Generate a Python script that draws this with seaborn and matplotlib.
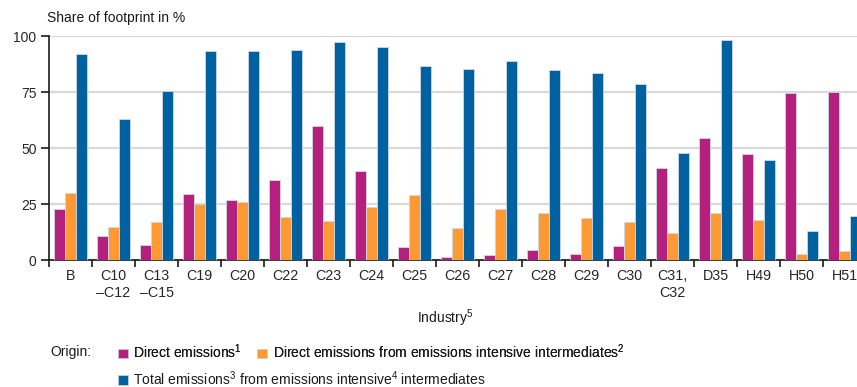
import matplotlib
matplotlib.use("Agg")
import matplotlib.pyplot as plt
import seaborn as sns
import pandas as pd
from matplotlib.patches import Patch
from matplotlib.ticker import FixedLocator

industries = ["B", "C10\n\u2013C12", "C13\n\u2013C15", "C19", "C20", "C22", "C23", "C24", "C25",
              "C26", "C27", "C28", "C29", "C30", "C31,\nC32", "D35", "H49", "H50", "H51"]
direct = [23.0, 10.7, 6.7, 29.4, 26.9, 35.9, 60.0, 39.7, 5.8,
          1.5, 2.4, 4.5, 2.7, 6.2, 41.1, 54.4, 47.3, 74.5, 75.0]
direct_inter = [30.0, 14.7, 16.9, 25.2, 26.1, 19.3, 17.5, 23.8, 29.2,
                14.3, 22.9, 21.1, 18.9, 16.9, 12.0, 21.0, 17.8, 2.8, 4.0]
total_inter = [92.1, 62.9, 75.3, 93.3, 93.4, 93.8, 97.2, 95.1, 86.6,
               85.1, 88.9, 84.7, 83.5, 78.5, 47.7, 98.1, 44.6, 13.1, 19.6]
series_names = ["Direct emissions$^{1}$",
                "Direct emissions from emissions intensive intermediates$^{2}$",
                "Total emissions$^{3}$ from emissions intensive$^{4}$ intermediates"]
colors = ["#B5207F", "#FF9933", "#0061A1"]

df = pd.DataFrame({
    "Industry": industries * 3,
    "Origin": [series_names[0]] * len(industries) + [series_names[1]] * len(industries)
              + [series_names[2]] * len(industries),
    "Share": direct + direct_inter + total_inter,
})

sns.set_theme(style="white")
plt.rcParams["font.family"] = ["Liberation Sans", "DejaVu Sans"]
plt.rcParams["mathtext.fontset"] = "custom"
plt.rcParams["mathtext.rm"] = "Liberation Sans"
plt.rcParams["mathtext.it"] = "Liberation Sans:italic"
plt.rcParams["mathtext.bf"] = "Liberation Sans:bold"
plt.rcParams["mathtext.default"] = "regular"
plt.rcParams["text.color"] = "#1a1a1a"

W, H = 857, 387
fig = plt.figure(figsize=(W / 100, H / 100), dpi=100)
ax = fig.add_axes([49 / W, (H - 260.3) / H, 817 / W, (260.3 - 36) / H])

sns.barplot(data=df, x="Industry", y="Share", hue="Origin", order=industries,
            hue_order=series_names, palette=colors, width=0.75, saturation=1,
            edgecolor="#cfd8e3", linewidth=0.6, ax=ax, legend=False, zorder=3)

ax.set_xlim(-0.5, len(industries) - 0.5)
ax.set_ylim(0, 100)
ax.set_yticks([0, 25, 50, 75, 100])
ax.grid(axis="y", color="#d9d9d9", linewidth=1.6, zorder=0)
ax.set_axisbelow(True)
for s in ["top", "right"]:
    ax.spines[s].set_visible(False)
for s in ["left", "bottom"]:
    ax.spines[s].set_color("#1a1a1a")
    ax.spines[s].set_linewidth(1.2)

ax.tick_params(axis="y", which="major", direction="out", length=6, width=1.2,
               color="#1a1a1a", labelsize=10, pad=3, left=True)
ax.tick_params(axis="x", which="major", length=0, labelsize=10.3, pad=6)
ax.xaxis.set_minor_locator(FixedLocator([i - 0.5 for i in range(len(industries) + 1)]))
ax.tick_params(axis="x", which="minor", direction="out", length=5, width=1.2,
               color="#1a1a1a", bottom=True)
for lab in ax.get_xticklabels():
    lab.set_linespacing(1.35)
ax.set_xlabel("")
ax.set_ylabel("")

fig.text(47 / W, 1 - 18 / H, "Share of footprint in %", fontsize=10, va="center", ha="left")
fig.text(445 / W, 1 - 318 / H, "Industry$^{5}$", fontsize=10, va="center", ha="center")
fig.text(50 / W, 1 - 352 / H, "Origin:", fontsize=10, va="center", ha="left")

handles = [Patch(facecolor=c, edgecolor="#cfd8e3", linewidth=0.5) for c in colors]
leg1 = fig.legend(handles[:2], series_names[:2], ncol=2, loc="center left",
                  bbox_to_anchor=(118 / W, 1 - 352 / H), frameon=False, fontsize=10,
                  handlelength=0.7, handleheight=0.7, handletextpad=0.4,
                  columnspacing=1.1, borderpad=0, borderaxespad=0)
leg2 = fig.legend(handles[2:], series_names[2:], ncol=1, loc="center left",
                  bbox_to_anchor=(118 / W, 1 - 378.5 / H), frameon=False, fontsize=10,
                  handlelength=0.7, handleheight=0.7, handletextpad=0.4,
                  borderpad=0, borderaxespad=0)
fig.add_artist(leg1)

fig.savefig("out.png", dpi=100)
